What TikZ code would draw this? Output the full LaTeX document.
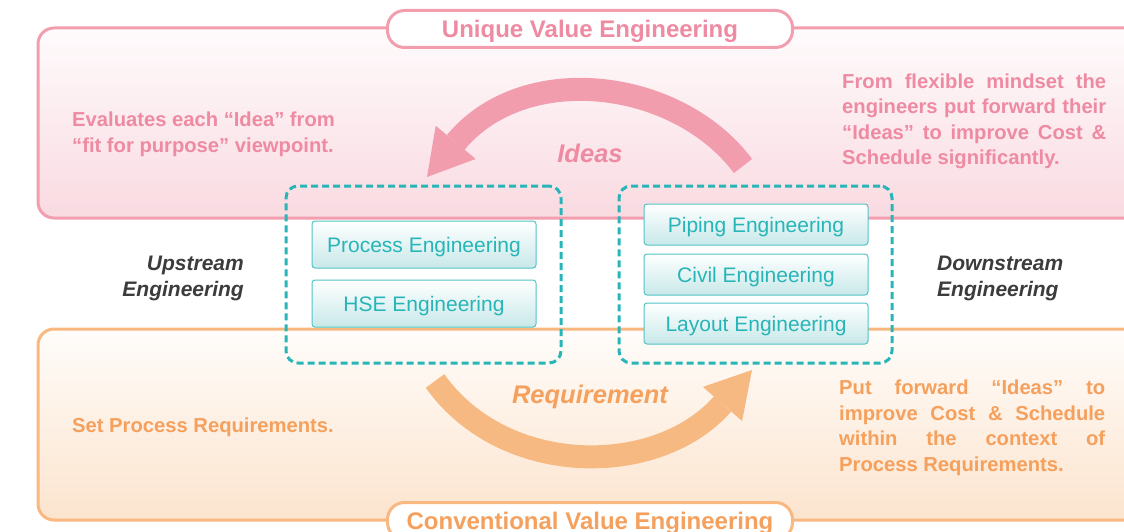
\documentclass[tikz,border=0pt]{standalone}
\usepackage{fontspec}
\setmainfont{Liberation Sans}
\usetikzlibrary{arrows.meta}
\definecolor{uvepink}{HTML}{F29EAF}
\definecolor{uvetext}{HTML}{EE8AA1}
\definecolor{uvefill}{HTML}{F9DAE1}
\definecolor{uvearrow}{HTML}{F19DAE}
\definecolor{cveorange}{HTML}{F8B880}
\definecolor{cvetext}{HTML}{F5A05C}
\definecolor{cvefill}{HTML}{FCE4CE}
\definecolor{cvearrow}{HTML}{F7B982}
\definecolor{boxteal}{HTML}{27B5B8}
\definecolor{boxfill}{HTML}{C8E8E9}
\definecolor{streamgrey}{HTML}{3C3C3C}

\begin{document}
\begin{tikzpicture}[x=1pt, y=-1pt,
    panel/.style={line width=3pt, rounded corners=16pt},
    titlebox/.style={draw, line width=3pt, fill=white, rounded corners=17pt, minimum width=405pt, minimum height=37pt, inner sep=0pt, text height=17pt, text depth=0pt, font=\fontsize{24}{28}\bfseries},
    dashbox/.style={draw=boxteal, line width=3pt, dash pattern=on 7pt off 4pt, rounded corners=12pt, minimum height=177pt, inner sep=0pt},
    engbox/.style={draw=boxteal!80, line width=1pt, top color=white, bottom color=boxfill, rounded corners=3pt, minimum width=224pt, text=boxteal, text height=15pt, text depth=0pt, font=\fontsize{21}{24}\selectfont, inner sep=0pt},
    note/.style={font=\fontsize{20.2}{25.5}\bfseries, inner sep=0pt},
    stream/.style={font=\fontsize{21}{26}\bfseries\itshape, text=streamgrey, inner sep=0pt},
    flowlabel/.style={font=\fontsize{25.5}{30}\bfseries\itshape, inner sep=0pt},
    bigarrow/.style={line width=23pt, -{Triangle[length=45pt, width=52pt, line width=0pt]}}]
        \useasboundingbox (0,0) rectangle (1124,532);
        \clip (0,0) rectangle (1124,532);

        \draw[panel, draw=uvepink, top color=uvefill!10, bottom color=uvefill] (38,28) rectangle (1160,218);
        \draw[panel, draw=cveorange, top color=cvefill!10, bottom color=cvefill] (38,329) rectangle (1160,520);

        \node[titlebox, draw=uvepink, text=uvetext] (uvetitle) at (590,29) {Unique Value Engineering};
        \node[titlebox, draw=cveorange, text=cvetext] (cvetitle) at (590,521) {Conventional Value Engineering};

        \coordinate (ideastail) at (743,166);
        \coordinate (ideastip) at (427,177);
        \draw[bigarrow, draw=uvearrow] (ideastail) .. controls (677,78) and (524,60) .. (ideastip);
        \coordinate (reqtail) at (435,381);
        \coordinate (reqtip) at (752,370);
        \draw[bigarrow, draw=cvearrow] (reqtail) .. controls (505,479) and (659,477) .. (reqtip);

        \node[flowlabel, text=uvetext] (ideas) at (590,153) {Ideas};
        \node[flowlabel, text=cvetext] (requirement) at (590,397) {Requirement};

        \node[dashbox, minimum width=275pt] (upbox) at (423.5,274.5) {};
        \node[dashbox, minimum width=273pt] (downbox) at (755.5,274.5) {};

        \node[engbox, minimum height=47pt] (process) at (424,244.5) {Process Engineering};
        \node[engbox, minimum height=47pt] (hse) at (424,303.5) {HSE Engineering};
        \node[engbox, minimum height=41pt] (piping) at (756,224.5) {Piping Engineering};
        \node[engbox, minimum height=41pt] (civil) at (756,274.5) {Civil Engineering};
        \node[engbox, minimum height=41pt] (layout) at (756,323.5) {Layout Engineering};

        \node[stream, anchor=east, align=right] (upstream) at (244,278) {Upstream\\Engineering};
        \node[stream, anchor=west, align=left] (downstream) at (937,278) {Downstream\\Engineering};

        \node[note, text=uvetext, anchor=west, align=left] (evaluate) at (72,134.5) {Evaluates each “Idea” from\\“fit for purpose” viewpoint.};
        \node[note, text=uvetext, anchor=west, text width=264pt, align=justify] (mindset) at (842,121.5) {From flexible mindset the\linebreak engineers put forward their\linebreak “Ideas” to improve Cost \&\linebreak Schedule significantly.};
        \node[note, text=cvetext, anchor=west, align=left] (setreq) at (72,427) {Set Process Requirements.};
        \node[note, text=cvetext, anchor=west, text width=266pt, align=justify] (putforward) at (839,428) {Put forward “Ideas” to\linebreak improve Cost \& Schedule\linebreak within the context of\linebreak Process Requirements.};
\end{tikzpicture}
\end{document}
